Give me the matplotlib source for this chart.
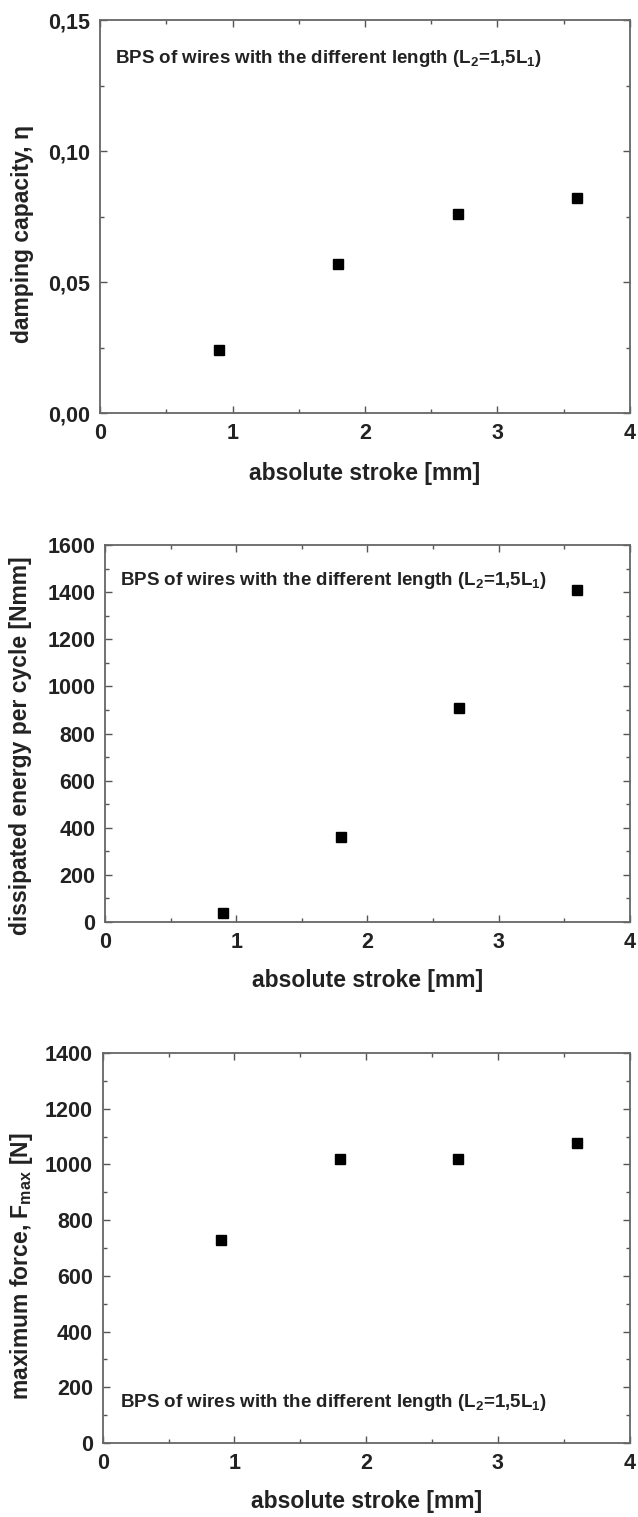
import matplotlib
matplotlib.use('Agg')
import matplotlib.pyplot as plt
from matplotlib.ticker import MultipleLocator, FuncFormatter

plt.rcParams['font.family'] = ['Liberation Sans', 'DejaVu Sans']
plt.rcParams['mathtext.fontset'] = 'custom'
plt.rcParams['mathtext.rm'] = 'Liberation Sans:bold'
plt.rcParams['mathtext.bf'] = 'Liberation Sans:bold'
plt.rcParams['mathtext.default'] = 'bf'

stroke = [0.9, 1.8, 2.7, 3.6]
damping = [0.024, 0.057, 0.076, 0.082]
energy = [40, 360, 910, 1410]
force = [730, 1020, 1020, 1075]

note = r'BPS of wires with the different length (L$_2$=1,5L$_1$)'
ink = '#222222'

fig = plt.figure(figsize=(6.38, 15.17), dpi=100)
ax1 = fig.add_axes([0.157, 0.7277, 0.830, 0.2591])
ax2 = fig.add_axes([0.165, 0.3922, 0.822, 0.2485])
ax3 = fig.add_axes([0.161, 0.0488, 0.826, 0.2571])


def style(ax, ymaj, ymin, ylab, ylab_pos, xlab_y):
    ax.set_xlim(0, 4)
    ax.xaxis.set_major_locator(MultipleLocator(1))
    ax.xaxis.set_minor_locator(MultipleLocator(0.5))
    ax.yaxis.set_major_locator(MultipleLocator(ymaj))
    ax.yaxis.set_minor_locator(MultipleLocator(ymin))
    ax.tick_params(which='both', direction='in', top=True, right=True,
                   color='#555555', width=1.0)
    ax.tick_params(which='major', length=5, labelsize=15.5, pad=7,
                   labelcolor=ink)
    ax.tick_params(which='minor', length=3)
    for lab in ax.get_xticklabels() + ax.get_yticklabels():
        lab.set_fontweight('bold')
    for s in ax.spines.values():
        s.set_color('#666666')
        s.set_linewidth(1.3)
    ax.set_xlabel('absolute stroke [mm]', fontsize=16.5, fontweight='bold',
                  color=ink)
    ax.xaxis.set_label_coords(0.5, xlab_y)
    ax.set_ylabel(ylab, fontsize=16.5, fontweight='bold', color=ink,
                  va='center')
    ax.yaxis.set_label_coords(*ylab_pos)


# panel 1
ax1.plot(stroke, damping, 's', color='black', ms=6.5)
ax1.set_ylim(0, 0.15)
ax1.yaxis.set_major_formatter(FuncFormatter(lambda v, p: f'{v:.2f}'.replace('.', ',')))
style(ax1, 0.05, 0.025, 'damping capacity, η', (-0.147, 0.455), -0.125)
ax1.text(0.028, 0.903, note, transform=ax1.transAxes, fontsize=13.5,
         fontweight='bold', va='center', ha='left', color=ink)

# panel 2
ax2.plot(stroke, energy, 's', color='black', ms=6.5)
ax2.set_ylim(0, 1600)
style(ax2, 200, 100, 'dissipated energy per cycle [Nmm]', (-0.162, 0.467), -0.125)
ax2.text(0.029, 0.905, note, transform=ax2.transAxes, fontsize=13.5,
         fontweight='bold', va='center', ha='left', color=ink)

# panel 3
ax3.plot(stroke, force, 's', color='black', ms=6.5)
ax3.set_ylim(0, 1400)
style(ax3, 200, 100, r'maximum force, F$_{max}$ [N]', (-0.154, 0.454), -0.12)
ax3.text(0.032, 0.103, note, transform=ax3.transAxes, fontsize=13.5,
         fontweight='bold', va='center', ha='left', color=ink)

fig.savefig('out.png', dpi=100)
